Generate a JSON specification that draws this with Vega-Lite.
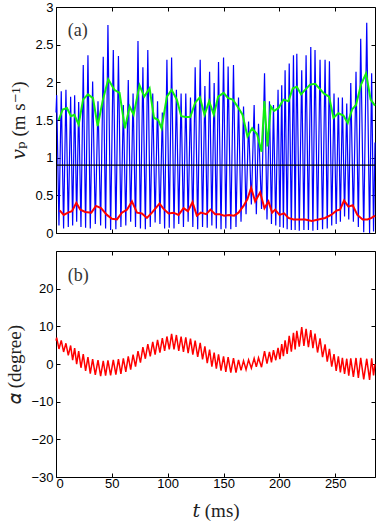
{
  "$schema": "https://vega.github.io/schema/vega-lite/v6.json",
  "padding": {"left": 5, "top": 0, "right": 3, "bottom": 0},
  "background": "white",
  "config": {
    "view": {"stroke": "black", "strokeWidth": 1},
    "axis": {"grid": false, "domain": false, "tickColor": "black", "tickSize": -4, "labelFont": "Liberation Sans", "labelFontSize": 13, "labelColor": "black", "titleFont": "Liberation Serif, DejaVu Serif", "titleFontSize": 19, "titleFontWeight": "normal", "titleColor": "#222222", "labelPadding": 7},
    "concat": {"spacing": 9}
  },
  "datasets": {
    "blue": [
      {"t":0,"v":1.6},{"t":0.6,"v":1.83},{"t":2.65,"v":0.1},{"t":4.7,"v":1.88},{"t":6.8,"v":0.06},{"t":8.9,"v":1.9},{"t":11,"v":0.08},{"t":13.1,"v":1.81},{"t":14.9,"v":0.1},{"t":16.7,"v":1.83},{"t":18.5,"v":0.15},{"t":20.3,"v":1.74},{"t":22.35,"v":0.08},{"t":24.4,"v":2.23},{"t":26.5,"v":0.07},{"t":28.6,"v":2.36},{"t":30.7,"v":0.06},{"t":32.8,"v":2.01},{"t":35.2,"v":0.12},{"t":37.6,"v":1.75},{"t":39.95,"v":0.1},{"t":42.3,"v":2.34},{"t":44.4,"v":0.06},{"t":46.5,"v":2.76},{"t":48.9,"v":0.04},{"t":51.3,"v":2.43},{"t":53.6,"v":0.05},{"t":55.9,"v":2.35},{"t":58.1,"v":0.08},{"t":60.3,"v":1.7},{"t":62.5,"v":0.1},{"t":64.7,"v":2.03},{"t":66.85,"v":0.15},{"t":69,"v":1.85},{"t":71.2,"v":0.08},{"t":73.4,"v":2.55},{"t":75.6,"v":0.06},{"t":77.8,"v":2.2},{"t":80,"v":0.05},{"t":82.2,"v":2.43},{"t":84.4,"v":0.08},{"t":86.6,"v":1.85},{"t":88.75,"v":0.14},{"t":90.9,"v":1.75},{"t":93.05,"v":0.12},{"t":95.2,"v":1.6},{"t":97.25,"v":0.06},{"t":99.3,"v":2.3},{"t":101.4,"v":0.07},{"t":103.5,"v":2.33},{"t":105.65,"v":0.06},{"t":107.8,"v":1.9},{"t":109.9,"v":0.12},{"t":112,"v":1.85},{"t":114.1,"v":0.08},{"t":116.2,"v":1.85},{"t":118.3,"v":0.15},{"t":120.4,"v":1.8},{"t":122.5,"v":0.08},{"t":124.6,"v":2.2},{"t":126.85,"v":0.05},{"t":129.1,"v":2.3},{"t":131.2,"v":0.08},{"t":133.3,"v":1.95},{"t":135.4,"v":0.07},{"t":137.5,"v":2.14},{"t":139.55,"v":0.1},{"t":141.6,"v":1.99},{"t":143.55,"v":0.06},{"t":145.5,"v":2.27},{"t":147.75,"v":0.05},{"t":150,"v":2.33},{"t":152.05,"v":0.06},{"t":154.1,"v":2.21},{"t":156.5,"v":0.05},{"t":158.9,"v":2.23},{"t":161.15,"v":0.08},{"t":163.4,"v":1.8},{"t":165.65,"v":0.15},{"t":167.9,"v":1.68},{"t":170.15,"v":0.25},{"t":172.4,"v":1.48},{"t":174.9,"v":0.38},{"t":177.4,"v":1.7},{"t":179.35,"v":0.25},{"t":181.3,"v":1.45},{"t":184,"v":0.32},{"t":186.7,"v":2.12},{"t":188.9,"v":0.18},{"t":191.1,"v":1.75},{"t":192.9,"v":0.12},{"t":194.7,"v":1.7},{"t":196.75,"v":0.1},{"t":198.8,"v":1.9},{"t":200.45,"v":0.08},{"t":202.1,"v":1.96},{"t":203.6,"v":0.07},{"t":205.1,"v":2.16},{"t":206.95,"v":0.05},{"t":208.8,"v":2.25},{"t":210.7,"v":0.04},{"t":212.6,"v":2.36},{"t":214.1,"v":0.04},{"t":215.6,"v":2.38},{"t":217.8,"v":0.03},{"t":220,"v":2.16},{"t":221.95,"v":0.04},{"t":223.9,"v":2.36},{"t":226,"v":0.04},{"t":228.1,"v":2.47},{"t":230,"v":0.03},{"t":231.9,"v":2.43},{"t":234.15,"v":0.04},{"t":236.4,"v":2.3},{"t":238.65,"v":0.05},{"t":240.9,"v":2.3},{"t":242.85,"v":0.06},{"t":244.8,"v":2.28},{"t":246.85,"v":0.1},{"t":248.9,"v":1.85},{"t":250.85,"v":0.12},{"t":252.8,"v":1.8},{"t":254.6,"v":0.15},{"t":256.4,"v":1.8},{"t":258.35,"v":0.22},{"t":260.3,"v":1.72},{"t":262.1,"v":0.18},{"t":263.9,"v":1.99},{"t":266.25,"v":0.15},{"t":268.6,"v":2.14},{"t":270.7,"v":0.08},{"t":272.8,"v":2.58},{"t":275.5,"v":0.01},{"t":278.2,"v":2.79},{"t":280.75,"v":0.0},{"t":282.6,"v":2.12},{"t":284.3,"v":0.02},{"t":285.6,"v":1.2}
    ],
    "green": [
      {"t":2.4,"v":1.5},{"t":6,"v":1.64},{"t":9.8,"v":1.66},{"t":13.4,"v":1.55},{"t":16.4,"v":1.57},{"t":20.3,"v":1.44},{"t":24.2,"v":1.77},{"t":28.6,"v":1.84},{"t":33.1,"v":1.79},{"t":37.3,"v":1.42},{"t":42,"v":1.77},{"t":46.8,"v":2.04},{"t":52.2,"v":1.9},{"t":56.9,"v":1.86},{"t":61.7,"v":1.39},{"t":65.9,"v":1.68},{"t":69.5,"v":1.57},{"t":74.8,"v":1.96},{"t":79,"v":1.81},{"t":83.8,"v":1.92},{"t":87.7,"v":1.53},{"t":91.5,"v":1.5},{"t":94.5,"v":1.39},{"t":99.3,"v":1.81},{"t":103.5,"v":1.9},{"t":108.2,"v":1.77},{"t":112.1,"v":1.55},{"t":116.3,"v":1.54},{"t":120.2,"v":1.54},{"t":124.6,"v":1.73},{"t":128.8,"v":1.8},{"t":133,"v":1.57},{"t":137.1,"v":1.75},{"t":141.3,"v":1.57},{"t":145.2,"v":1.81},{"t":150,"v":1.86},{"t":154.1,"v":1.79},{"t":158.3,"v":1.77},{"t":162.5,"v":1.68},{"t":167,"v":1.57},{"t":171.4,"v":1.28},{"t":175.6,"v":1.39},{"t":180.1,"v":1.31},{"t":184,"v":1.08},{"t":186.6,"v":1.75},{"t":189.3,"v":1.15},{"t":192.3,"v":1.68},{"t":195.3,"v":1.62},{"t":199.2,"v":1.66},{"t":203.6,"v":1.77},{"t":208.1,"v":1.75},{"t":212,"v":1.92},{"t":215.6,"v":1.94},{"t":219.4,"v":1.84},{"t":223,"v":1.9},{"t":227.5,"v":1.97},{"t":232,"v":1.98},{"t":235.8,"v":1.92},{"t":240,"v":1.85},{"t":244.5,"v":1.81},{"t":248.4,"v":1.53},{"t":252.8,"v":1.59},{"t":257.3,"v":1.56},{"t":261.2,"v":1.46},{"t":265.1,"v":1.64},{"t":268.6,"v":1.7},{"t":273.1,"v":1.97},{"t":277.6,"v":2.12},{"t":281.7,"v":1.77},{"t":285.6,"v":1.69}
    ],
    "red": [
      {"t":3.3,"v":0.3},{"t":6.9,"v":0.24},{"t":10.7,"v":0.27},{"t":14.3,"v":0.29},{"t":18.2,"v":0.4},{"t":21.8,"v":0.31},{"t":26.2,"v":0.28},{"t":31.6,"v":0.27},{"t":35.8,"v":0.36},{"t":40.3,"v":0.33},{"t":45.6,"v":0.24},{"t":50.1,"v":0.19},{"t":54.6,"v":0.18},{"t":59,"v":0.27},{"t":63.5,"v":0.31},{"t":68,"v":0.42},{"t":72.5,"v":0.27},{"t":76.9,"v":0.26},{"t":81.4,"v":0.2},{"t":85.9,"v":0.27},{"t":92.7,"v":0.39},{"t":96.3,"v":0.32},{"t":100.8,"v":0.26},{"t":105.2,"v":0.27},{"t":109.7,"v":0.24},{"t":114.2,"v":0.33},{"t":118.1,"v":0.29},{"t":122.2,"v":0.41},{"t":126.1,"v":0.23},{"t":129.7,"v":0.27},{"t":134.5,"v":0.25},{"t":138.3,"v":0.31},{"t":142.5,"v":0.25},{"t":146.4,"v":0.25},{"t":150.6,"v":0.23},{"t":155,"v":0.24},{"t":159.5,"v":0.23},{"t":163.4,"v":0.27},{"t":167.9,"v":0.36},{"t":171.4,"v":0.45},{"t":174.7,"v":0.6},{"t":178.3,"v":0.42},{"t":182.8,"v":0.54},{"t":186.6,"v":0.33},{"t":190.2,"v":0.42},{"t":193.5,"v":0.27},{"t":196.2,"v":0.31},{"t":200.1,"v":0.24},{"t":204.2,"v":0.26},{"t":208.1,"v":0.2},{"t":212.6,"v":0.18},{"t":217.1,"v":0.18},{"t":223,"v":0.18},{"t":229,"v":0.16},{"t":234.9,"v":0.18},{"t":240.9,"v":0.2},{"t":246.3,"v":0.24},{"t":251.3,"v":0.3},{"t":254.3,"v":0.31},{"t":257.9,"v":0.43},{"t":261.8,"v":0.35},{"t":265.6,"v":0.37},{"t":269.8,"v":0.24},{"t":274.6,"v":0.18},{"t":278.8,"v":0.18},{"t":282.6,"v":0.2},{"t":285.6,"v":0.23}
    ],
    "alpha": [
      {"t":0,"v":6.2},{"t":0.6,"v":7.0},{"t":2.65,"v":4.0},{"t":4.7,"v":6.25},{"t":6.8,"v":3.2},{"t":8.9,"v":5.5},{"t":11,"v":2.3},{"t":13.1,"v":4.9},{"t":14.9,"v":1.0},{"t":16.7,"v":4.2},{"t":18.5,"v":-0.05},{"t":20.3,"v":3.4},{"t":22.35,"v":-1.0},{"t":24.4,"v":2.6},{"t":26.5,"v":-1.8},{"t":28.6,"v":1.8},{"t":30.7,"v":-2.55},{"t":32.8,"v":1.3},{"t":35.2,"v":-2.9},{"t":37.6,"v":1.0},{"t":39.95,"v":-3.2},{"t":42.3,"v":0.85},{"t":44.4,"v":-3.1},{"t":46.5,"v":0.95},{"t":48.9,"v":-3.0},{"t":51.3,"v":1.1},{"t":53.6,"v":-2.8},{"t":55.9,"v":1.3},{"t":58.1,"v":-2.6},{"t":60.3,"v":1.5},{"t":62.5,"v":-2.1},{"t":64.7,"v":2.0},{"t":66.85,"v":-1.5},{"t":69,"v":2.5},{"t":71.2,"v":-0.7},{"t":73.4,"v":3.4},{"t":75.6,"v":0.35},{"t":77.8,"v":4.5},{"t":80,"v":1.4},{"t":82.2,"v":5.3},{"t":84.4,"v":2.0},{"t":86.6,"v":5.9},{"t":88.75,"v":2.5},{"t":90.9,"v":6.4},{"t":93.05,"v":3.0},{"t":95.2,"v":6.9},{"t":97.25,"v":3.5},{"t":99.3,"v":7.3},{"t":101.4,"v":3.9},{"t":103.5,"v":8.0},{"t":105.65,"v":3.9},{"t":107.8,"v":7.7},{"t":109.9,"v":3.5},{"t":112,"v":7.3},{"t":114.1,"v":3.2},{"t":116.2,"v":7.1},{"t":118.3,"v":2.9},{"t":120.4,"v":6.75},{"t":122.5,"v":2.5},{"t":124.6,"v":6.2},{"t":126.85,"v":1.9},{"t":129.1,"v":5.6},{"t":131.2,"v":1.2},{"t":133.3,"v":4.7},{"t":135.4,"v":0.25},{"t":137.5,"v":3.8},{"t":139.55,"v":-0.7},{"t":141.6,"v":3.0},{"t":143.55,"v":-1.25},{"t":145.5,"v":2.55},{"t":147.75,"v":-1.75},{"t":150,"v":2.0},{"t":152.05,"v":-2.1},{"t":154.1,"v":1.8},{"t":156.5,"v":-2.3},{"t":158.9,"v":1.55},{"t":161.15,"v":-2.3},{"t":163.4,"v":1.1},{"t":165.65,"v":-1.7},{"t":167.9,"v":0.85},{"t":170.15,"v":-1.5},{"t":172.4,"v":1.1},{"t":174.9,"v":-1.1},{"t":177.4,"v":1.5},{"t":179.35,"v":-0.75},{"t":181.3,"v":1.65},{"t":184,"v":-0.85},{"t":186.7,"v":3.4},{"t":188.9,"v":0.1},{"t":191.1,"v":3.2},{"t":192.9,"v":0.45},{"t":194.7,"v":3.7},{"t":196.75,"v":1.0},{"t":198.8,"v":4.3},{"t":200.45,"v":1.3},{"t":202.1,"v":5.3},{"t":203.6,"v":2.1},{"t":205.1,"v":6.3},{"t":206.95,"v":2.7},{"t":208.8,"v":7.5},{"t":210.7,"v":3.3},{"t":212.6,"v":8.3},{"t":214.1,"v":3.9},{"t":215.6,"v":8.8},{"t":217.8,"v":4.6},{"t":220,"v":9.8},{"t":221.95,"v":4.8},{"t":223.9,"v":9.3},{"t":226,"v":4.5},{"t":228.1,"v":9.0},{"t":230,"v":4.2},{"t":231.9,"v":8.1},{"t":234.15,"v":3.05},{"t":236.4,"v":6.8},{"t":238.65,"v":1.8},{"t":240.9,"v":5.2},{"t":242.85,"v":0.6},{"t":244.8,"v":4.0},{"t":246.85,"v":-0.7},{"t":248.9,"v":2.65},{"t":250.85,"v":-1.8},{"t":252.8,"v":2.0},{"t":254.6,"v":-2.2},{"t":256.4,"v":1.6},{"t":258.35,"v":-2.6},{"t":260.3,"v":1.4},{"t":262.1,"v":-3.1},{"t":263.9,"v":1.5},{"t":266.25,"v":-3.4},{"t":268.6,"v":1.6},{"t":270.7,"v":-3.7},{"t":272.8,"v":1.65},{"t":275.5,"v":-4.1},{"t":278.2,"v":1.4},{"t":280.75,"v":-4.2},{"t":282.6,"v":1.5},{"t":284.3,"v":-3.0},{"t":285.6,"v":0.0}
    ],
    "refline": [{"v": 0.9}],
    "labA": [{"t": 10.5, "v": 2.68, "label": "(a)"}],
    "labB": [{"t": 10.5, "v": 23.3, "label": "(b)"}]
  },
  "vconcat": [
    {
      "width": 319,
      "height": 226,
      "resolve": {"axis": {"x": "independent", "y": "independent"}},
      "layer": [
        {"data": {"name": "blue"}, "mark": {"type": "line", "color": "#0000ff", "strokeWidth": 1.2},
         "encoding": {
          "x": {"field": "t", "type": "quantitative", "scale": {"domain": [0, 285.6], "nice": false}, "axis": {"values": [0, 50, 100, 150, 200, 250], "labels": false, "title": null}},
          "y": {"field": "v", "type": "quantitative", "scale": {"domain": [0, 3], "nice": false}, "axis": {"values": [0, 0.5, 1, 1.5, 2, 2.5, 3], "labelExpr": "datum.value + ''", "title": "𝑣ₚ (m s⁻¹)", "titlePadding": 6}}}},
        {"data": {"name": "refline"}, "mark": {"type": "rule", "color": "black", "strokeWidth": 1.3}, "encoding": {"y": {"field": "v", "type": "quantitative", "axis": null}}},
        {"data": {"name": "green"}, "mark": {"type": "line", "color": "#11ee11", "strokeWidth": 2}, "encoding": {"x": {"field": "t", "type": "quantitative", "axis": null}, "y": {"field": "v", "type": "quantitative", "axis": null}}},
        {"data": {"name": "red"}, "mark": {"type": "line", "color": "#ff0000", "strokeWidth": 2}, "encoding": {"x": {"field": "t", "type": "quantitative", "axis": null}, "y": {"field": "v", "type": "quantitative", "axis": null}}},
        {"data": {"name": "labA"}, "mark": {"type": "text", "align": "left", "baseline": "middle", "font": "Liberation Serif", "fontSize": 18, "color": "#333333"}, "encoding": {"text": {"field": "label"},
          "x": {"field": "t", "type": "quantitative", "axis": {"orient": "top", "values": [0, 50, 100, 150, 200, 250], "labels": false, "title": null}},
          "y": {"field": "v", "type": "quantitative", "axis": {"orient": "right", "values": [0, 0.5, 1, 1.5, 2, 2.5, 3], "labels": false, "title": null}}}}
      ]
    },
    {
      "width": 319,
      "height": 226,
      "resolve": {"axis": {"x": "independent", "y": "independent"}},
      "layer": [
        {"data": {"name": "alpha"}, "mark": {"type": "line", "color": "#ff0000", "strokeWidth": 1.5},
         "encoding": {
          "x": {"field": "t", "type": "quantitative", "scale": {"domain": [0, 285.6], "nice": false}, "axis": {"values": [0, 50, 100, 150, 200, 250], "title": "𝑡 (ms)", "labelPadding": 4, "titlePadding": 11}},
          "y": {"field": "v", "type": "quantitative", "scale": {"domain": [-30, 30], "nice": false}, "axis": {"values": [-30, -20, -10, 0, 10, 20], "title": "𝛼 (degree)", "titlePadding": 6}}}},
        {"data": {"name": "labB"}, "mark": {"type": "text", "align": "left", "baseline": "middle", "font": "Liberation Serif", "fontSize": 18, "color": "#333333"}, "encoding": {"text": {"field": "label"},
          "x": {"field": "t", "type": "quantitative", "axis": {"orient": "top", "values": [0, 50, 100, 150, 200, 250], "labels": false, "title": null}},
          "y": {"field": "v", "type": "quantitative", "axis": {"orient": "right", "values": [-30, -20, -10, 0, 10, 20, 30], "labels": false, "title": null}}}}
      ]
    }
  ]
}
